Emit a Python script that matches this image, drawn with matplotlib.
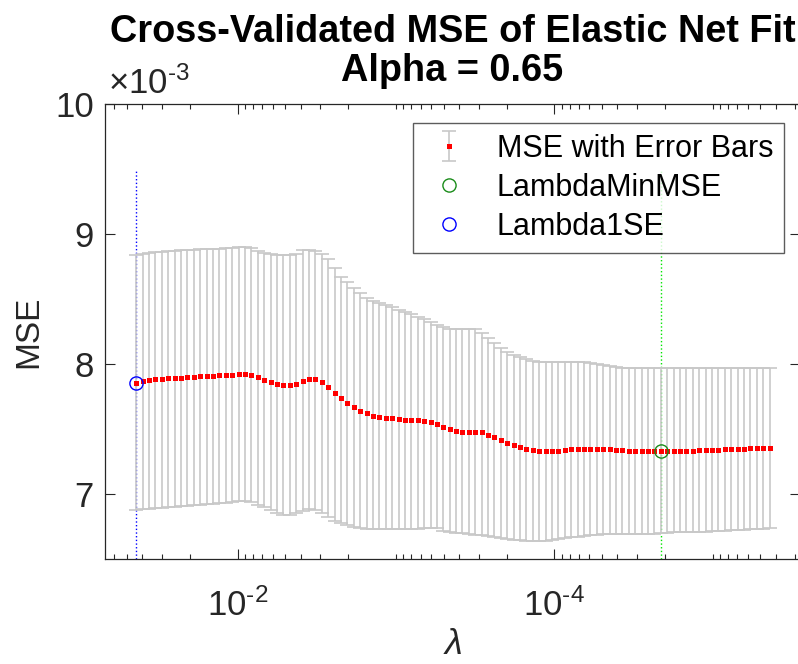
import numpy as np
import matplotlib
matplotlib.use('Agg')
import matplotlib.pyplot as plt
from matplotlib.ticker import FixedLocator, LogLocator, NullFormatter, FuncFormatter

# lambda grid: 100 values, geometric, from lambda_max down to lambda_max * 1e-4
lambda_max = 0.0437
n_lambda = 100
lam = np.geomspace(lambda_max, lambda_max * 1e-4, n_lambda)

# cross-validated MSE (units of 1e-3), one value per lambda
mse = np.array([
    7.856, 7.872, 7.878, 7.883, 7.886, 7.890, 7.893, 7.896, 7.899, 7.902,
    7.905, 7.907, 7.910, 7.912, 7.915, 7.917, 7.921, 7.923,
    7.915, 7.903, 7.880, 7.862, 7.849, 7.841, 7.838, 7.846, 7.867, 7.885,
    7.882, 7.859, 7.826, 7.779, 7.736, 7.697,
    7.667, 7.641, 7.621, 7.602, 7.595, 7.587, 7.582, 7.577, 7.572, 7.567,
    7.567, 7.564, 7.552, 7.536,
    7.512, 7.497, 7.485, 7.479, 7.479, 7.477, 7.474, 7.456, 7.438, 7.415,
    7.395, 7.377, 7.359, 7.346, 7.338, 7.333,
    7.332, 7.332, 7.333, 7.338, 7.344, 7.346, 7.349, 7.349, 7.349, 7.346,
    7.344, 7.338, 7.336, 7.333, 7.331, 7.331, 7.330, 7.330,
    7.329, 7.330, 7.333, 7.333, 7.334, 7.334, 7.336, 7.338, 7.338, 7.341,
    7.344, 7.346, 7.349, 7.349, 7.351, 7.351, 7.354, 7.354,
])

# top of error bars (units of 1e-3)
upper = np.array([
    8.838, 8.849, 8.852, 8.859, 8.862, 8.869, 8.872, 8.876, 8.879, 8.879,
    8.882, 8.884, 8.887, 8.887, 8.890, 8.895, 8.900, 8.900,
    8.890, 8.869, 8.856, 8.844, 8.838, 8.838, 8.838, 8.849, 8.879, 8.879,
    8.872, 8.844, 8.808, 8.736, 8.672, 8.628,
    8.582, 8.544, 8.510, 8.485, 8.467, 8.451, 8.436, 8.415, 8.397, 8.382,
    8.364, 8.346, 8.326, 8.300,
    8.282, 8.269, 8.269, 8.269, 8.269, 8.269, 8.236, 8.197, 8.159, 8.126,
    8.095, 8.069, 8.051, 8.036, 8.026, 8.018,
    8.018, 8.018, 8.018, 8.018, 8.018, 8.018, 8.013, 8.010, 8.000, 7.992,
    7.985, 7.979, 7.972, 7.972, 7.972, 7.967, 7.967, 7.967,
    7.967, 7.967, 7.967, 7.967, 7.967, 7.967, 7.967, 7.967, 7.967, 7.967,
    7.972, 7.972, 7.972, 7.972, 7.972, 7.972, 7.972, 7.972,
])

# bottom of error bars (units of 1e-3)
lower = np.array([
    6.877, 6.885, 6.887, 6.890, 6.895, 6.897, 6.902, 6.905, 6.908, 6.913,
    6.918, 6.923, 6.926, 6.931, 6.933, 6.938, 6.944, 6.946,
    6.938, 6.915, 6.897, 6.877, 6.856, 6.841, 6.838, 6.851, 6.872, 6.882,
    6.877, 6.851, 6.821, 6.795, 6.774, 6.759,
    6.746, 6.736, 6.731, 6.728, 6.728, 6.728, 6.728, 6.733, 6.733, 6.733,
    6.733, 6.741, 6.741, 6.736,
    6.718, 6.710, 6.703, 6.697, 6.692, 6.687, 6.682, 6.674, 6.667, 6.659,
    6.651, 6.646, 6.644, 6.638, 6.638, 6.638,
    6.641, 6.646, 6.651, 6.659, 6.667, 6.672, 6.677, 6.685, 6.687, 6.690,
    6.690, 6.690, 6.690, 6.695, 6.695, 6.695, 6.695, 6.695,
    6.697, 6.697, 6.705, 6.705, 6.705, 6.710, 6.710, 6.710, 6.718, 6.718,
    6.718, 6.726, 6.726, 6.726, 6.733, 6.733, 6.733, 6.738,
])

idx_min_mse = 82
idx_1se = 0
line_top = 9.5

plt.rcParams['font.family'] = ['Liberation Sans', 'DejaVu Sans']
plt.rcParams['mathtext.fontset'] = 'custom'
plt.rcParams['mathtext.rm'] = 'Liberation Sans'
plt.rcParams['mathtext.it'] = 'Liberation Sans:italic'

txt = '#262626'
fig = plt.figure(figsize=(7.98, 6.64), dpi=100)
ax_l, ax_b, ax_w, ax_h = 105 / 798, 105 / 664, 695 / 798, 455 / 664
ax = fig.add_axes([ax_l, ax_b, ax_w, ax_h])

eb = ax.errorbar(lam, mse, yerr=[mse - lower, upper - mse], fmt='s', color='red',
                 markersize=3.6, ecolor='#c8c8c8', elinewidth=1.2,
                 capsize=4.8, capthick=1.2, label='MSE with Error Bars', zorder=3)
eb[0].set_markeredgewidth(0)
for cap in eb[1]:
    cap.set_color('#b0b0b0')

ax.plot([lam[idx_min_mse]] * 2, [6.5, line_top], ':', color=(0, 0.9, 0), lw=1, zorder=2)
ax.plot([lam[idx_1se]] * 2, [6.5, line_top], ':', color=(0, 0, 1), lw=1, zorder=2)
h_min, = ax.plot(lam[idx_min_mse], mse[idx_min_mse], 'o', mfc='none', mec=(0.1, 0.55, 0.1),
                 ms=9.5, mew=1, label='LambdaMinMSE', zorder=4)
h_1se, = ax.plot(lam[idx_1se], mse[idx_1se], 'o', mfc='none', mec=(0, 0, 1),
                 ms=9.5, mew=1, label='Lambda1SE', zorder=4)

ax.set_xscale('log')
ax.set_xlim(10 ** -1.162, 10 ** -5.552)
ax.set_ylim(6.5, 10)
ax.xaxis.set_major_locator(FixedLocator([1e-2, 1e-4]))
ax.xaxis.set_major_formatter(FuncFormatter(
    lambda v, p: r'$\mathdefault{10^{\text{-}%d}}$' % round(-np.log10(v))))
ax.xaxis.set_minor_locator(LogLocator(base=10, subs=np.arange(1, 10), numticks=100))
ax.xaxis.set_minor_formatter(NullFormatter())
ax.set_yticks([7, 8, 9, 10])

ax.tick_params(which='both', direction='in', top=True, right=True, colors=txt,
               labelsize=25, width=0.8)
ax.tick_params(which='major', length=7)
ax.tick_params(which='minor', length=3.5)
ax.tick_params(axis='x', pad=21)
ax.tick_params(axis='y', pad=8)
for s in ax.spines.values():
    s.set_color(txt)
    s.set_linewidth(0.9)

ax.text(0.004, 1.008, r'$\times\mathdefault{10^{\text{-}3}}$', transform=ax.transAxes,
        ha='left', va='bottom', fontsize=25, color=txt)

cx = ax_l + ax_w / 2
fig.text(cx, 1 - 42 / 664, 'Cross-Validated MSE of Elastic Net Fit', ha='center',
         va='baseline', fontsize=27.3, fontweight='bold')
fig.text(cx, 1 - 81 / 664, 'Alpha = 0.65', ha='center', va='baseline',
         fontsize=27.3, fontweight='bold')
ax.set_ylabel('MSE', fontsize=24, color=txt, labelpad=8)
ax.set_xlabel(r'$\lambda$', fontsize=26, color=txt, labelpad=3)

leg = ax.legend([eb, h_min, h_1se], ['MSE with Error Bars', 'LambdaMinMSE', 'Lambda1SE'],
                loc='upper right', bbox_to_anchor=(784 / 798, 1 - 123 / 664),
                bbox_transform=fig.transFigure, fontsize=22, frameon=True,
                fancybox=False, edgecolor='#333333', borderpad=0.35,
                labelspacing=0.3, handlelength=1.7, handletextpad=0.7,
                borderaxespad=0)
leg.get_frame().set_linewidth(1)

fig.savefig('out.png', dpi=100)
